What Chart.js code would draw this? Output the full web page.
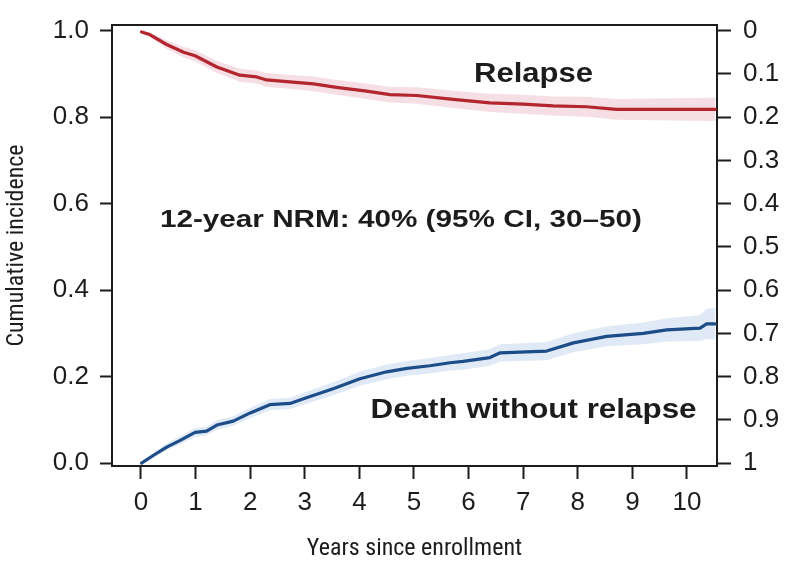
<!DOCTYPE html>
<html>
<head>
<meta charset="utf-8">
<script src="https://cdn.jsdelivr.net/npm/chart.js@4.4.1/dist/chart.umd.min.js"></script>
<style>
html,body{margin:0;padding:0;background:#fff}
#wrap{width:800px;height:569px;position:relative}
</style>
</head>
<body>
<div id="wrap"><canvas id="c"></canvas></div>
<script>
// ---- tick labels ----
const xTicks = [0, 1, 2, 3, 4, 5, 6, 7, 8, 9, 10];
const yLeftTicks = [0, 0.2, 0.4, 0.6, 0.8, 1.0];
const yRightTicks = [0, 0.1, 0.2, 0.3, 0.4, 0.5, 0.6, 0.7, 0.8, 0.9, 1];

// ---- Relapse (cumulative incidence, read on the right, reversed axis) ----
const relapseTime = [0.01, 0.16, 0.47, 0.78, 0.99, 1.39, 1.81, 2.12, 2.30, 2.67, 3.16, 3.58, 4.13, 4.56, 5.05, 5.72, 6.39, 7.00, 7.55, 8.16, 8.71, 10.52];
const relapseInc  = [0.003, 0.009, 0.032, 0.050, 0.058, 0.084, 0.103, 0.107, 0.114, 0.118, 0.123, 0.131, 0.140, 0.148, 0.150, 0.159, 0.167, 0.170, 0.174, 0.176, 0.182, 0.182];
const relapseLow  = [0.001, 0.004, 0.022, 0.038, 0.045, 0.070, 0.088, 0.092, 0.098, 0.102, 0.106, 0.114, 0.122, 0.130, 0.131, 0.139, 0.146, 0.148, 0.152, 0.153, 0.158, 0.155];
const relapseHigh = [0.005, 0.014, 0.042, 0.062, 0.071, 0.098, 0.118, 0.122, 0.130, 0.134, 0.140, 0.148, 0.158, 0.166, 0.169, 0.179, 0.188, 0.192, 0.196, 0.199, 0.206, 0.209];

// ---- Death without relapse (cumulative incidence, left axis) ----
const deathTime = [0.01, 0.23, 0.47, 0.71, 0.99, 1.20, 1.39, 1.69, 2.00, 2.36, 2.73, 3.03, 3.52, 4.01, 4.50, 4.87, 5.29, 5.66, 5.90, 6.39, 6.58, 7.43, 7.92, 8.53, 9.20, 9.63, 10.24, 10.36, 10.52];
const deathInc  = [0, 0.018, 0.037, 0.052, 0.071, 0.074, 0.088, 0.097, 0.116, 0.135, 0.138, 0.151, 0.172, 0.195, 0.211, 0.219, 0.225, 0.232, 0.235, 0.244, 0.255, 0.259, 0.278, 0.293, 0.300, 0.308, 0.312, 0.322, 0.322];
const deathLow  = [0, 0.012, 0.029, 0.043, 0.061, 0.064, 0.077, 0.086, 0.104, 0.122, 0.125, 0.137, 0.157, 0.179, 0.194, 0.202, 0.207, 0.214, 0.216, 0.225, 0.235, 0.238, 0.256, 0.270, 0.275, 0.281, 0.282, 0.287, 0.286];
const deathHigh = [0.001, 0.024, 0.045, 0.061, 0.081, 0.084, 0.099, 0.108, 0.128, 0.148, 0.151, 0.165, 0.187, 0.211, 0.228, 0.236, 0.243, 0.250, 0.254, 0.263, 0.275, 0.280, 0.300, 0.316, 0.325, 0.335, 0.342, 0.357, 0.358];

// ---- text annotations ----
const notes = [
  { text: 'Relapse', t: 7.19, v: 0.882, size: 27, width: 119 },
  { text: '12-year NRM: 40% (95% CI, 30\u201350)', t: 4.76, v: 0.546, size: 23.5, width: 482 },
  { text: 'Death without relapse', t: 7.19, v: 0.104, size: 27, width: 326 }
];

// ---- style ----
const RED = '#b3262f';
const BLUE = '#1d4d88';
const PINK = 'rgba(236,190,202,0.5)';
const LIGHTBLUE = 'rgba(196,216,238,0.55)';
const INK = '#1c1c1c';
const TICKFONT = { family: '"Liberation Sans", Arial, Helvetica, sans-serif', size: 26, lineHeight: 1 };
const TITLEFONT = { family: '"Liberation Sans Narrow", "Arial Narrow", "Roboto Condensed", "Liberation Sans", sans-serif', size: 24, lineHeight: 1.2 };

const pts = (t, v) => t.map((x, i) => ({ x: x, y: v[i] }));

const notePlugin = {
  id: 'notes',
  afterDatasetsDraw(chart) {
    const { ctx } = chart;
    const sx = chart.scales.x, sy = chart.scales.y;
    notes.forEach(n => {
      const px = sx.getPixelForValue(n.t);
      const py = sy.getPixelForValue(n.v);
      ctx.save();
      ctx.font = 'bold ' + n.size + 'px "Liberation Sans", Arial, Helvetica, sans-serif';
      const w = ctx.measureText(n.text).width;
      ctx.translate(px, py);
      ctx.scale(n.width / w, 1);
      ctx.textAlign = 'center';
      ctx.textBaseline = 'alphabetic';
      ctx.fillStyle = INK;
      ctx.fillText(n.text, 0, 0);
      ctx.restore();
    });
  }
};

const lineDs = (label, data, axis, color) => ({
  label, data, yAxisID: axis, borderColor: color, borderWidth: 3.2,
  pointRadius: 0, fill: false, tension: 0, borderJoinStyle: 'round', borderCapStyle: 'round'
});
const bandDs = (label, data, axis, fill, color) => ({
  label, data, yAxisID: axis, borderWidth: 0, borderColor: 'rgba(0,0,0,0)',
  backgroundColor: color, pointRadius: 0, fill: fill, tension: 0
});

const axisGrid = len => ({ display: true, drawOnChartArea: false, drawTicks: true, tickLength: len, tickWidth: 2, tickColor: INK });
const axisBorder = { display: true, color: INK, width: 2 };

new Chart(document.getElementById('c'), {
  type: 'line',
  data: {
    datasets: [
      lineDs('Relapse', pts(relapseTime, relapseInc), 'y2', RED),
      lineDs('Death without relapse', pts(deathTime, deathInc), 'y', BLUE),
      bandDs('Relapse 95% CI upper', pts(relapseTime, relapseHigh), 'y2', '+1', PINK),
      bandDs('Relapse 95% CI lower', pts(relapseTime, relapseLow), 'y2', false, PINK),
      bandDs('Death 95% CI upper', pts(deathTime, deathHigh), 'y', '+1', LIGHTBLUE),
      bandDs('Death 95% CI lower', pts(deathTime, deathLow), 'y', false, LIGHTBLUE)
    ]
  },
  options: {
    responsive: true,
    maintainAspectRatio: false,
    animation: false,
    layout: { padding: 0 },
    plugins: { legend: { display: false }, tooltip: { enabled: false } },
    scales: {
      x: {
        type: 'linear', position: 'bottom', min: -0.531, max: 10.55,
        afterBuildTicks: s => { s.ticks = xTicks.map(v => ({ value: v })); },
        afterFit: s => { s.height = 103; },
        ticks: { font: TICKFONT, color: INK, padding: 11, autoSkip: false, maxRotation: 0, minRotation: 0, callback: v => String(v) },
        grid: axisGrid(13),
        border: axisBorder,
        title: { display: true, text: 'Years since enrollment', font: TITLEFONT, color: INK, padding: { top: 0, bottom: 6 } }
      },
      x2: {
        type: 'linear', position: 'top', min: -0.531, max: 10.55,
        afterFit: s => { s.height = 14; },
        ticks: { display: false },
        grid: { display: false },
        border: axisBorder
      },
      y: {
        type: 'linear', position: 'left', min: -0.0068, max: 1.0131,
        afterBuildTicks: s => { s.ticks = yLeftTicks.map(v => ({ value: v })); },
        afterFit: s => { s.width = 112; },
        ticks: { font: TICKFONT, color: INK, padding: 11, callback: v => v.toFixed(1) },
        grid: axisGrid(12),
        border: axisBorder,
        title: { display: true, text: 'Cumulative incidence', font: TITLEFONT, color: INK, padding: { top: 3, bottom: 0 } }
      },
      y2: {
        type: 'linear', position: 'right', reverse: true, min: -0.0131, max: 1.0068,
        afterBuildTicks: s => { s.ticks = yRightTicks.map(v => ({ value: v })); },
        afterFit: s => { s.width = 83; },
        ticks: { font: TICKFONT, color: INK, padding: 12, callback: v => String(Number(v.toFixed(1))) },
        grid: axisGrid(14),
        border: axisBorder
      }
    }
  },
  plugins: [notePlugin]
});
</script>
</body>
</html>
